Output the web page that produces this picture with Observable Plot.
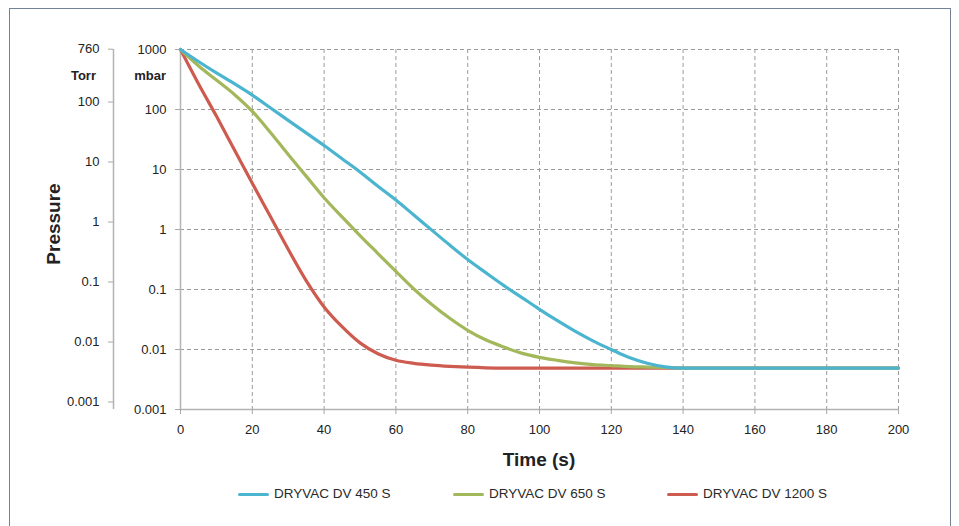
<!DOCTYPE html>
<html>
<head>
<meta charset="utf-8">
<script src="https://cdn.jsdelivr.net/npm/d3@7"></script>
<script src="https://cdn.jsdelivr.net/npm/@observablehq/plot@0.6"></script>
<style>
  body { margin: 0; background: #fff; }
  #wrap { position: relative; width: 959px; height: 526px; overflow: hidden; font-family: "Liberation Sans", Arial, sans-serif; color: #222; }
  #wrap svg { position: absolute; left: 0; top: 0; overflow: visible; }
  .frame { position: absolute; left: 9px; top: 7.5px; width: 942px; height: 600px; border: 1.5px solid #738394; box-sizing: border-box; }
  .lbl { position: absolute; white-space: nowrap; }
  .unit { font-weight: bold; font-size: 13px; line-height: 16px; text-align: right; }
  .title { font-weight: bold; font-size: 19px; line-height: 22px; }
  .leg { position: absolute; top: 486px; height: 16px; font-size: 13.5px; line-height: 16px; white-space: nowrap; color: #2a2a2a; }
  .leg i { position: absolute; left: 0; top: 6.5px; width: 31px; height: 3.5px; border-radius: 2px; }
  .leg span { position: absolute; left: 36px; top: 0; }
</style>
</head>
<body>
<div id="wrap"></div>
<script>
// ---- data ----
const times = [0,5,10,15,20,25,30,35,40,45,50,55,60,65,70,75,80,85,90,95,100,105,110,115,120,125,130,135,140,150,160,170,180,190,200];
const dv450 = [1000,631,407,269,174,107,66,40.7,25.1,15.1,9.1,5.25,3.09,1.74,0.977,0.55,0.316,0.191,0.117,0.0741,0.0468,0.0302,0.02,0.0138,0.01,0.00735,0.00589,0.00513,0.0049,0.0049,0.0049,0.0049,0.0049,0.0049,0.0049];
const dv650 = [1000,537,309,178,93,41.7,17.8,7.76,3.39,1.62,0.794,0.398,0.2,0.102,0.0562,0.0331,0.0209,0.0145,0.011,0.0087,0.0074,0.0066,0.006,0.0056,0.0054,0.0052,0.0051,0.00501,0.0049,0.0049,0.0049,0.0049,0.0049,0.0049,0.0049];
const dv1200 = [1000,269,77.6,21.4,5.89,1.66,0.468,0.141,0.0513,0.024,0.0129,0.0085,0.0066,0.00589,0.0055,0.00525,0.00507,0.00495,0.0049,0.0049,0.0049,0.0049,0.0049,0.0049,0.0049,0.0049,0.0049,0.0049,0.0049,0.0049,0.0049,0.0049,0.0049,0.0049,0.0049];
const seriesNames = ["DRYVAC DV 450 S", "DRYVAC DV 650 S", "DRYVAC DV 1200 S"];
const seriesColors = ["#4bb5cf", "#a3b75b", "#cd5b4f"];
const xTicks = [0,20,40,60,80,100,120,140,160,180,200];
const mbarTicks = [1000,100,10,1,0.1,0.01,0.001];
const torrTicks = [760,100,10,1,0.1,0.01,0.001];
const TORR_TO_MBAR = 1.33322;

// ---- build rows ----
const seriesValues = [dv450, dv650, dv1200];
const rows = [];
// draw order: red, green, blue (blue on top)
[2,1,0].forEach(i => {
  times.forEach((t, j) => rows.push({t, p: seriesValues[i][j], s: seriesNames[i]}));
});

const font = "Liberation Sans, Arial, sans-serif";
const gridStyle = {stroke: "#9c9c9c", strokeOpacity: 1, strokeDasharray: "4,3", strokeWidth: 1};
const axisLine = {stroke: "#b3b3b3", strokeWidth: 1.5};

const main = Plot.plot({
  width: 959, height: 526,
  marginLeft: 180, marginRight: 61, marginTop: 49, marginBottom: 117,
  style: {fontFamily: font, fontSize: "13px", color: "#222", background: "transparent"},
  x: {domain: [0, 200], label: null},
  y: {type: "log", domain: [0.001, 1000], label: null},
  color: {domain: seriesNames, range: seriesColors},
  marks: [
    Plot.gridX(xTicks.filter(t => t > 0), gridStyle),
    Plot.gridY(mbarTicks.filter(v => v > 0.001), gridStyle),
    Plot.ruleX([0], axisLine),
    Plot.ruleY([0.001], axisLine),
    Plot.axisX(xTicks, {tickSize: 5, tickPadding: 10, stroke: "#a8a8a8", fill: "#222", label: null, tickFormat: d => String(d)}),
    Plot.axisY(mbarTicks, {tickSize: 5, tickPadding: 9, stroke: "#a8a8a8", fill: "#222", label: null, tickFormat: d => String(d)}),
    Plot.line(rows, {x: "t", y: "p", z: "s", stroke: "s", strokeWidth: 3.2, curve: "monotone-x"})
  ]
});

const torrPos = torrTicks.map(t => t * TORR_TO_MBAR);
const torrLabel = new Map(torrPos.map((v, i) => [v, String(torrTicks[i])]));
const torr = Plot.plot({
  width: 120, height: 526,
  marginLeft: 113, marginRight: 6, marginTop: 49, marginBottom: 117,
  style: {fontFamily: font, fontSize: "13px", color: "#222", background: "transparent"},
  x: {domain: [0, 1], axis: null},
  y: {type: "log", domain: [0.001, 1000], label: null},
  marks: [
    Plot.ruleX([0], axisLine),
    Plot.axisY(torrPos, {anchor: "left", tickSize: 5, tickPadding: 9, stroke: "#a8a8a8", fill: "#222", label: null, tickFormat: d => torrLabel.get(d)})
  ]
});

const wrap = document.getElementById("wrap");
const frame = document.createElement("div");
frame.className = "frame";
wrap.appendChild(frame);
wrap.appendChild(main);
wrap.appendChild(torr);

function addLabel(text, cls, css) {
  const d = document.createElement("div");
  d.className = "lbl " + cls;
  d.textContent = text;
  Object.assign(d.style, css);
  wrap.appendChild(d);
  return d;
}
addLabel("Torr", "unit", {right: (959 - 96) + "px", top: "68px"});
addLabel("mbar", "unit", {right: (959 - 166) + "px", top: "68px"});
addLabel("Pressure", "title", {left: "54px", top: "224px", transform: "translate(-50%,-50%) rotate(-90deg)"});
addLabel("Time (s)", "title", {left: "539px", top: "460px", transform: "translate(-50%,-50%)"});

const legX = [238, 453, 667];
seriesNames.forEach((name, i) => {
  const item = document.createElement("div");
  item.className = "leg";
  item.style.left = legX[i] + "px";
  const sw = document.createElement("i");
  sw.style.background = seriesColors[i];
  const tx = document.createElement("span");
  tx.textContent = name;
  item.appendChild(sw);
  item.appendChild(tx);
  wrap.appendChild(item);
});
</script>
</body>
</html>
